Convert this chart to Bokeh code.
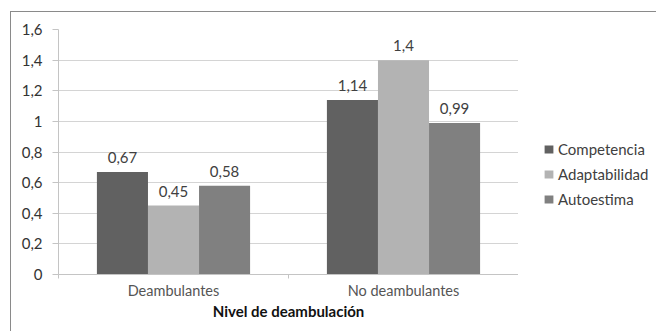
from bokeh.plotting import figure
from bokeh.layouts import row
from bokeh.models import (ColumnDataSource, FixedTicker, CustomJSTickFormatter,
                          Legend, LegendItem)
from bokeh.core.properties import value
from bokeh.embed import file_html
from bokeh.resources import INLINE

categories = ["Deambulantes", "No deambulantes"]
series = ["Competencia", "Adaptabilidad", "Autoestima"]
competencia = [0.67, 1.14]
adaptabilidad = [0.45, 1.4]
autoestima = [0.58, 0.99]
y_ticks = [0, 0.2, 0.4, 0.6, 0.8, 1.0, 1.2, 1.4, 1.6]
colors = ["#616161", "#b3b3b3", "#808080"]

FONT = "Lato"
bar_w = 0.222
BORDER = "1px solid #8a8a8a"

p = figure(width=508, height=320, x_range=(0, 2), y_range=(0, 1.6),
           output_backend="svg", toolbar_location=None,
           min_border_left=47, min_border_right=1, min_border_top=17,
           min_border_bottom=58)
p.margin = (11, 0, 0, 10)
p.styles = {"border-left": BORDER, "border-top": BORDER}
p.outline_line_color = None
p.background_fill_color = "white"
p.border_fill_color = "white"

for k, (name, vals) in enumerate(zip(series, [competencia, adaptabilidad, autoestima])):
    xs = [i + 0.5 + (k - 1) * bar_w for i in range(len(categories))]
    labels = [("%g" % v).replace(".", ",") for v in vals]
    src = ColumnDataSource(dict(x=xs, top=vals, lab=labels))
    p.vbar(x="x", top="top", width=bar_w, bottom=0, source=src,
           fill_color=colors[k], line_color=None)
    p.text(x="x", y="top", text="lab", source=src, text_align="center",
           text_baseline="bottom", y_offset=-9, text_font=value(FONT),
           text_font_size="15px", text_color="#404040")

# y axis
p.yaxis.ticker = FixedTicker(ticks=y_ticks)
p.yaxis.formatter = CustomJSTickFormatter(code="""
    var s = tick.toFixed(1).replace('.', ',');
    if (s.endsWith(',0')) s = s.slice(0, -2);
    return s;
""")
p.yaxis.axis_line_color = "#c4c4c4"
p.yaxis.major_tick_line_color = "#c4c4c4"
p.yaxis.major_tick_out = 6
p.yaxis.major_tick_in = 0
p.yaxis.minor_tick_line_color = None
p.yaxis.major_label_standoff = 10
p.yaxis.major_label_text_font = FONT
p.yaxis.major_label_text_font_size = "15px"
p.yaxis.major_label_text_color = "#333333"

# x axis
p.xaxis.ticker = FixedTicker(ticks=[0.5, 1.5], minor_ticks=[0, 1, 2])
p.xaxis.formatter = CustomJSTickFormatter(args=dict(cats=categories),
                                          code="return cats[Math.floor(tick)];")
p.xaxis.axis_line_color = "#c4c4c4"
p.xaxis.major_tick_line_color = None
p.xaxis.major_tick_out = 0
p.xaxis.major_tick_in = 0
p.xaxis.minor_tick_line_color = "#c4c4c4"
p.xaxis.minor_tick_out = 4
p.xaxis.minor_tick_in = 0
p.xaxis.major_label_standoff = 3
p.xaxis.major_label_text_font = FONT
p.xaxis.major_label_text_font_size = "14.5px"
p.xaxis.major_label_text_color = "#555555"
p.xaxis.axis_label = "Nivel de deambulación"
p.xaxis.axis_label_text_font = FONT
p.xaxis.axis_label_text_font_size = "15px"
p.xaxis.axis_label_text_font_style = "bold"
p.xaxis.axis_label_text_color = "#111111"
p.xaxis.axis_label_standoff = 0

p.xgrid.grid_line_color = None
p.ygrid.ticker = FixedTicker(ticks=y_ticks)
p.ygrid.grid_line_color = "#d4d4d4"

# legend panel (separate figure so the legend is not clipped)
q = figure(width=138, height=320, x_range=(0, 1), y_range=(0, 1),
           output_backend="svg", toolbar_location=None,
           x_axis_type=None, y_axis_type=None,
           min_border_left=0, min_border_right=0, min_border_top=0,
           min_border_bottom=0)
q.margin = (11, 0, 0, 0)
q.styles = {"border-top": BORDER}
q.outline_line_color = None
q.xgrid.grid_line_color = None
q.ygrid.grid_line_color = None
items = []
for k, name in enumerate(series):
    r = q.vbar(x=[-10], top=[0], width=0.1, fill_color=colors[k], line_color=None)
    items.append(LegendItem(label=name, renderers=[r]))

legend = Legend(items=items, location=(25, 65), orientation="vertical",
                padding=0, margin=0, spacing=5, label_height=20,
                glyph_width=11, glyph_height=10, label_standoff=4,
                border_line_color=None, background_fill_alpha=0,
                label_text_font=FONT, label_text_font_size="15px",
                label_text_color="#404040")
q.add_layout(legend, "center")

layout = row(p, q, spacing=0)
open("out.html", "w").write(file_html(layout, INLINE))
